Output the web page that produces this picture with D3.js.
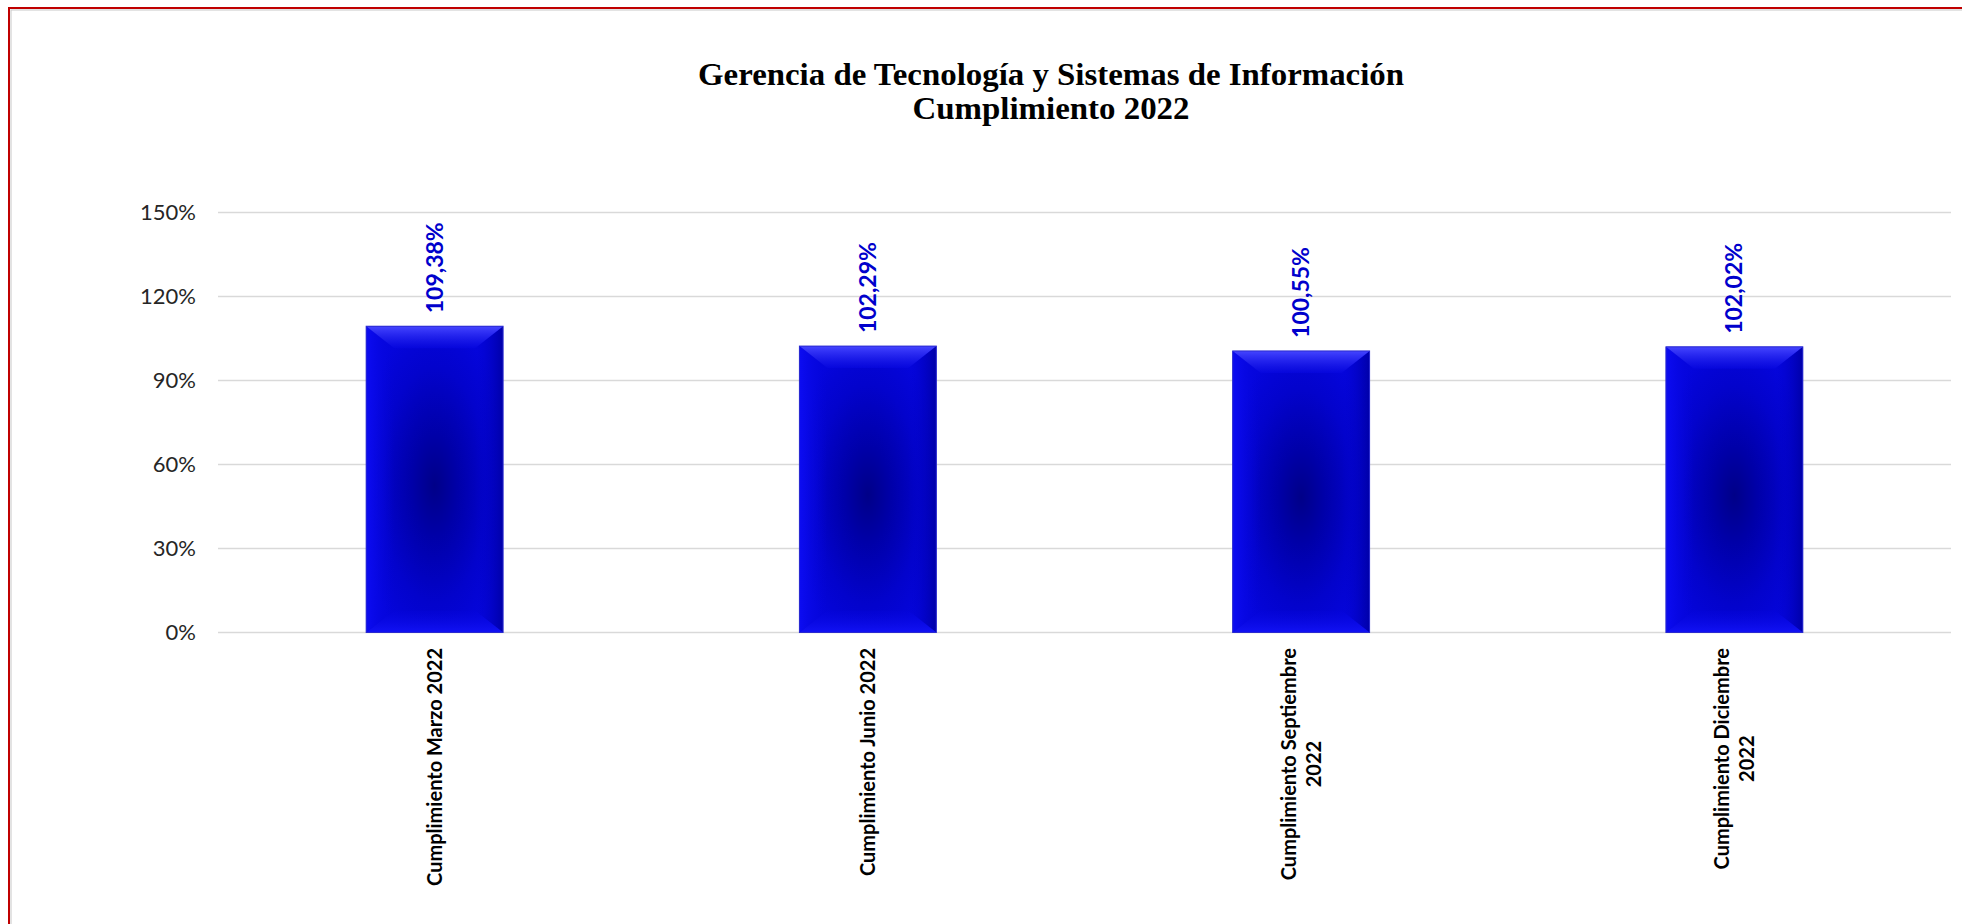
<!DOCTYPE html>
<html>
<head>
<meta charset="utf-8">
<script src="https://cdn.jsdelivr.net/npm/d3@7"></script>
<style>
  body { margin: 0; background: #fff; }
  svg { display: block; }
</style>
</head>
<body>
<svg id="svg-chart"></svg>
<script>
const width = 1962;
const height = 924;

// data
const categories = [
  "Cumplimiento Marzo 2022",
  "Cumplimiento Junio 2022",
  "Cumplimiento Septiembre\n2022",
  "Cumplimiento Diciembre\n2022",
];
const values = [1.0938, 1.0229, 1.0055, 1.0202];
const tickValues = [0, 0.3, 0.6, 0.9, 1.2, 1.5];
const titleLines = ["Gerencia de Tecnología y Sistemas de Información", "Cumplimiento 2022"];

const plot = { left: 218, right: 1951, top: 212.5, bottom: 632.5 };

const svg = d3.select("#svg-chart").attr("width", width).attr("height", height);

const esLocale = d3.formatLocale({ decimal: ",", thousands: ".", grouping: [3], currency: ["$", ""] });
const valueFormat = esLocale.format(".2%");

const xScale = d3.scaleBand()
  .domain(categories)
  .range([plot.left, plot.right])
  .paddingInner(0.684)
  .paddingOuter(0.342);

const yScale = d3.scaleLinear().domain([0, 1.5]).range([plot.bottom, plot.top]);

// frame
svg.append("rect")
  .attr("x", 9).attr("y", 8)
  .attr("width", width + 20).attr("height", height + 20)
  .attr("fill", "none").attr("stroke", "#c00000").attr("stroke-width", 2);
svg.append("rect")
  .attr("x", 11).attr("y", 10)
  .attr("width", width + 20).attr("height", height + 20)
  .attr("fill", "none").attr("stroke", "#c8c8c8").attr("stroke-width", 1);

// gradients
const defs = svg.append("defs");
const radial = defs.append("radialGradient").attr("id", "barCenter")
  .attr("cx", "50%").attr("cy", "52%").attr("r", "55%");
radial.append("stop").attr("offset", "0%").attr("stop-color", "#000088");
radial.append("stop").attr("offset", "30%").attr("stop-color", "#0000a8");
radial.append("stop").attr("offset", "70%").attr("stop-color", "#0303cc");
radial.append("stop").attr("offset", "100%").attr("stop-color", "#0505dc");

const topGrad = defs.append("linearGradient").attr("id", "bevelTop")
  .attr("x1", 0).attr("y1", 0).attr("x2", 0).attr("y2", 1);
topGrad.append("stop").attr("offset", "0%").attr("stop-color", "#4545ff");
topGrad.append("stop").attr("offset", "100%").attr("stop-color", "#0808e0").attr("stop-opacity", 0.6);

const leftGrad = defs.append("linearGradient").attr("id", "bevelLeft")
  .attr("x1", 0).attr("y1", 0).attr("x2", 1).attr("y2", 0);
leftGrad.append("stop").attr("offset", "0%").attr("stop-color", "#0c0cf2");
leftGrad.append("stop").attr("offset", "100%").attr("stop-color", "#0505dc").attr("stop-opacity", 0);

const rightGrad = defs.append("linearGradient").attr("id", "bevelRight")
  .attr("x1", 0).attr("y1", 0).attr("x2", 1).attr("y2", 0);
rightGrad.append("stop").attr("offset", "0%").attr("stop-color", "#0303d0").attr("stop-opacity", 0);
rightGrad.append("stop").attr("offset", "100%").attr("stop-color", "#0000a8");

const bottomGrad = defs.append("linearGradient").attr("id", "bevelBottom")
  .attr("x1", 0).attr("y1", 0).attr("x2", 0).attr("y2", 1);
bottomGrad.append("stop").attr("offset", "0%").attr("stop-color", "#0505dc").attr("stop-opacity", 0.3);
bottomGrad.append("stop").attr("offset", "100%").attr("stop-color", "#1212f4");

// gridlines
svg.append("g")
  .selectAll("line")
  .data(tickValues)
  .join("line")
  .attr("x1", plot.left).attr("x2", plot.right)
  .attr("y1", (d) => yScale(d)).attr("y2", (d) => yScale(d))
  .attr("stroke", "#d9d9d9").attr("stroke-width", 1.6);

// y axis
const axisLeft = d3.axisLeft(yScale)
  .tickValues(tickValues)
  .tickFormat(d3.format(".0%"))
  .tickSize(0)
  .tickPadding(22);

const yAxis = svg.append("g")
  .attr("transform", "translate(" + plot.left + ",0)")
  .call(axisLeft);
yAxis.select(".domain").remove();
yAxis.selectAll("text")
  .attr("font-family", "Lato, 'Open Sans', sans-serif")
  .attr("font-size", 22)
  .attr("fill", "#262626");

// bars
const bevel = 28;
const bars = svg.append("g")
  .selectAll("g")
  .data(values)
  .join("g")
  .attr("transform", (d, i) => "translate(" + xScale(categories[i]) + "," + yScale(d) + ")");

bars.each(function (d) {
  const g = d3.select(this);
  const w = xScale.bandwidth();
  const h = yScale(0) - yScale(d);
  const bx = bevel, by = 22;
  g.append("rect").attr("width", w).attr("height", h).attr("fill", "url(#barCenter)");
  g.append("polygon")
    .attr("points", [[0, 0], [bx, by], [bx, h - by], [0, h]].join(" "))
    .attr("fill", "url(#bevelLeft)");
  g.append("polygon")
    .attr("points", [[w, 0], [w, h], [w - bx, h - by], [w - bx, by]].join(" "))
    .attr("fill", "url(#bevelRight)");
  g.append("polygon")
    .attr("points", [[0, 0], [w, 0], [w - bx, by], [bx, by]].join(" "))
    .attr("fill", "url(#bevelTop)");
  g.append("polygon")
    .attr("points", [[0, h], [bx, h - by], [w - bx, h - by], [w, h]].join(" "))
    .attr("fill", "url(#bevelBottom)");
  g.append("rect").attr("width", w).attr("height", h)
    .attr("fill", "none").attr("stroke", "#2a2ad0").attr("stroke-width", 1);
});

// value labels
svg.append("g")
  .selectAll("text")
  .data(values)
  .join("text")
  .attr("transform", (d, i) =>
    "translate(" + (xScale(categories[i]) + xScale.bandwidth() / 2 + 8) + "," + (yScale(d) - 13) + ") rotate(-90)")
  .attr("text-anchor", "start")
  .attr("font-family", "Lato, 'Open Sans', sans-serif")
  .attr("font-weight", "bold")
  .attr("font-size", 23)
  .attr("fill", "#0000cc")
  .text((d) => valueFormat(d));

// category labels
const catG = svg.append("g")
  .selectAll("g")
  .data(categories)
  .join("g");

catG.each(function (d) {
  const g = d3.select(this);
  const lines = d.split("\n");
  const cx = xScale(d) + xScale.bandwidth() / 2;
  const texts = lines.map((line, k) =>
    g.append("text")
      .attr("font-family", "Lato, 'Open Sans', sans-serif")
      .attr("font-weight", "bold")
      .attr("font-size", 20)
      .attr("fill", "#000")
      .attr("text-anchor", "middle")
      .text(line)
  );
  const maxLen = d3.max(texts, (t) => t.node().getComputedTextLength());
  const midY = 648 + maxLen / 2;
  texts.forEach((t, k) => {
    const x = cx + (k - (lines.length - 1) / 2) * 25 + 7;
    t.attr("transform", "translate(" + x + "," + midY + ") rotate(-90)");
  });
});

// title
svg.append("g")
  .selectAll("text")
  .data(titleLines)
  .join("text")
  .attr("x", 1051)
  .attr("y", (d, i) => 85 + i * 34)
  .attr("text-anchor", "middle")
  .attr("font-family", "'Liberation Serif', 'DejaVu Serif', serif")
  .attr("font-weight", "bold")
  .attr("font-size", 32)
  .attr("textLength", (d, i) => (i === 0 ? 706 : 277))
  .attr("lengthAdjust", "spacingAndGlyphs")
  .attr("fill", "#000")
  .text((d) => d);
</script>
</body>
</html>
